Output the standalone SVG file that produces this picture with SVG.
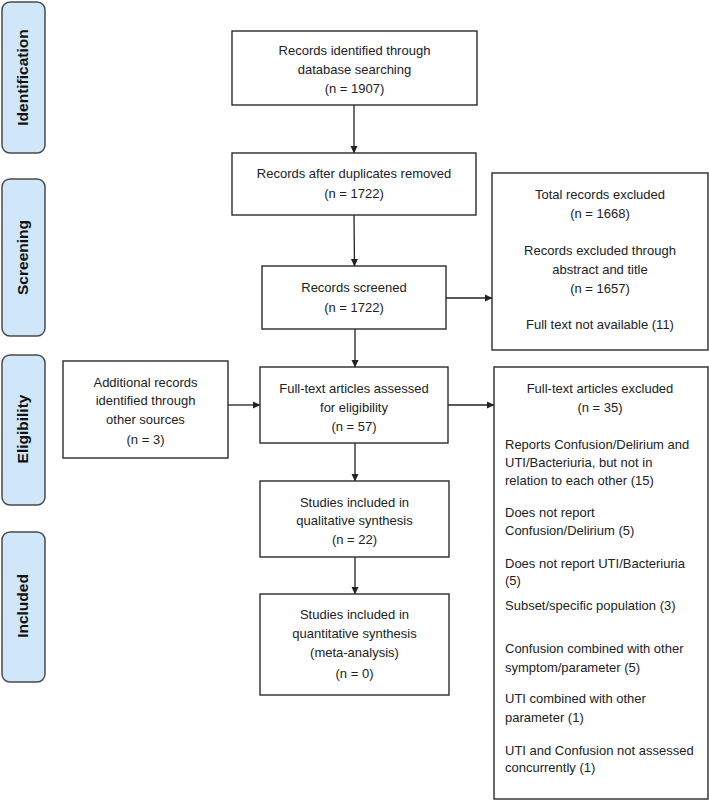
<svg xmlns="http://www.w3.org/2000/svg" width="709" height="801" viewBox="0 0 709 801">
<defs>
<marker id="ah" markerWidth="8" markerHeight="8" refX="7" refY="4" orient="auto" markerUnits="userSpaceOnUse">
<path d="M0,0.5 L7.5,4 L0,7.5 Z" fill="#222"/>
</marker>
<style>
.box{fill:#fff;stroke:#2b2b2b;stroke-width:1.4}
.side{fill:#cfe7f9;stroke:#4a4a4a;stroke-width:1.5}
.t{font-family:"Liberation Sans",Arial,sans-serif;font-size:13px;fill:#222;text-anchor:middle}
.l{font-family:"Liberation Sans",Arial,sans-serif;font-size:13px;fill:#222;text-anchor:start}
.s{font-family:"Liberation Sans",Arial,sans-serif;font-size:15.5px;font-weight:bold;fill:#111;text-anchor:middle}
.c{fill:none;stroke:#222;stroke-width:1.3}
</style>
</defs>
<rect width="709" height="801" fill="#fff"/>

<g id="side-identification"><rect class="side" x="2" y="2" width="43" height="151" rx="8"/><text class="s" transform="translate(27.5,77.5) rotate(-90)">Identification</text></g>
<g id="side-screening"><rect class="side" x="2" y="179" width="43" height="157" rx="8"/><text class="s" transform="translate(27.5,257.5) rotate(-90)">Screening</text></g>
<g id="side-eligibility"><rect class="side" x="2" y="355" width="43" height="150" rx="8"/><text class="s" transform="translate(27.5,429) rotate(-90)">Eligibility</text></g>
<g id="side-included"><rect class="side" x="2" y="532" width="43" height="150" rx="8"/><text class="s" transform="translate(27.5,606) rotate(-90)">Included</text></g>

<g id="connectors">
<line class="c" x1="354" y1="105" x2="354" y2="153" marker-end="url(#ah)"/>
<line class="c" x1="354" y1="215" x2="354.5" y2="266" marker-end="url(#ah)"/>
<line class="c" x1="355" y1="329" x2="355" y2="367" marker-end="url(#ah)"/>
<line class="c" x1="446" y1="298" x2="492" y2="298" marker-end="url(#ah)"/>
<line class="c" x1="228" y1="405" x2="260" y2="405" marker-end="url(#ah)"/>
<line class="c" x1="448" y1="405" x2="494" y2="405" marker-end="url(#ah)"/>
<line class="c" x1="355" y1="443" x2="355" y2="481" marker-end="url(#ah)"/>
<line class="c" x1="355" y1="557" x2="355" y2="594" marker-end="url(#ah)"/>
</g>

<g id="n-identified"><rect class="box" x="232" y="31" width="245" height="74"/>
<text class="t" x="354.5" y="55">Records identified through</text>
<text class="t" x="354.5" y="74">database searching</text>
<text class="t" x="354.5" y="93">(n = 1907)</text></g>

<g id="n-duplicates"><rect class="box" x="232" y="153" width="244" height="62"/>
<text class="t" x="354" y="178">Records after duplicates removed</text>
<text class="t" x="354" y="198">(n = 1722)</text></g>

<g id="n-screened"><rect class="box" x="262" y="266" width="184" height="63"/>
<text class="t" x="354" y="292">Records screened</text>
<text class="t" x="354" y="312">(n = 1722)</text></g>

<g id="n-excluded1"><rect class="box" x="492" y="173" width="216" height="177"/>
<text class="t" x="600" y="199">Total records excluded</text>
<text class="t" x="600" y="218">(n = 1668)</text>
<text class="t" x="600" y="255">Records excluded through</text>
<text class="t" x="600" y="274">abstract and title</text>
<text class="t" x="600" y="293">(n = 1657)</text>
<text class="t" x="600" y="329">Full text not available (11)</text></g>

<g id="n-additional"><rect class="box" x="63" y="361" width="165" height="97"/>
<text class="t" x="145.5" y="387">Additional records</text>
<text class="t" x="145.5" y="405">identified through</text>
<text class="t" x="145.5" y="424">other sources</text>
<text class="t" x="145.5" y="444">(n = 3)</text></g>

<g id="n-fulltext"><rect class="box" x="260" y="367" width="188" height="76"/>
<text class="t" x="354" y="393">Full-text articles assessed</text>
<text class="t" x="354" y="412">for eligibility</text>
<text class="t" x="354" y="431">(n = 57)</text></g>

<g id="n-excluded2"><rect class="box" x="494" y="367" width="214" height="432"/>
<text class="t" x="600" y="393">Full-text articles excluded</text>
<text class="t" x="600" y="412">(n = 35)</text>
<text class="l" x="505" y="449">Reports Confusion/Delirium and</text>
<text class="l" x="505" y="467">UTI/Bacteriuria, but not in</text>
<text class="l" x="505" y="485">relation to each other (15)</text>
<text class="l" x="505" y="517">Does not report</text>
<text class="l" x="505" y="535">Confusion/Delirium (5)</text>
<text class="l" x="505" y="568">Does not report UTI/Bacteriuria</text>
<text class="l" x="505" y="585">(5)</text>
<text class="l" x="505" y="610">Subset/specific population (3)</text>
<text class="l" x="505" y="653">Confusion combined with other</text>
<text class="l" x="505" y="672">symptom/parameter (5)</text>
<text class="l" x="505" y="703">UTI combined with other</text>
<text class="l" x="505" y="722">parameter (1)</text>
<text class="l" x="505" y="755">UTI and Confusion not assessed</text>
<text class="l" x="505" y="772">concurrently (1)</text></g>

<g id="n-qualitative"><rect class="box" x="260" y="481" width="189" height="76"/>
<text class="t" x="354.5" y="507">Studies included in</text>
<text class="t" x="354.5" y="525">qualitative synthesis</text>
<text class="t" x="354.5" y="544">(n = 22)</text></g>

<g id="n-quantitative"><rect class="box" x="260" y="594" width="189" height="101"/>
<text class="t" x="354.5" y="619">Studies included in</text>
<text class="t" x="354.5" y="638">quantitative synthesis</text>
<text class="t" x="354.5" y="657">(meta-analysis)</text>
<text class="t" x="354.5" y="678">(n = 0)</text></g>
</svg>
